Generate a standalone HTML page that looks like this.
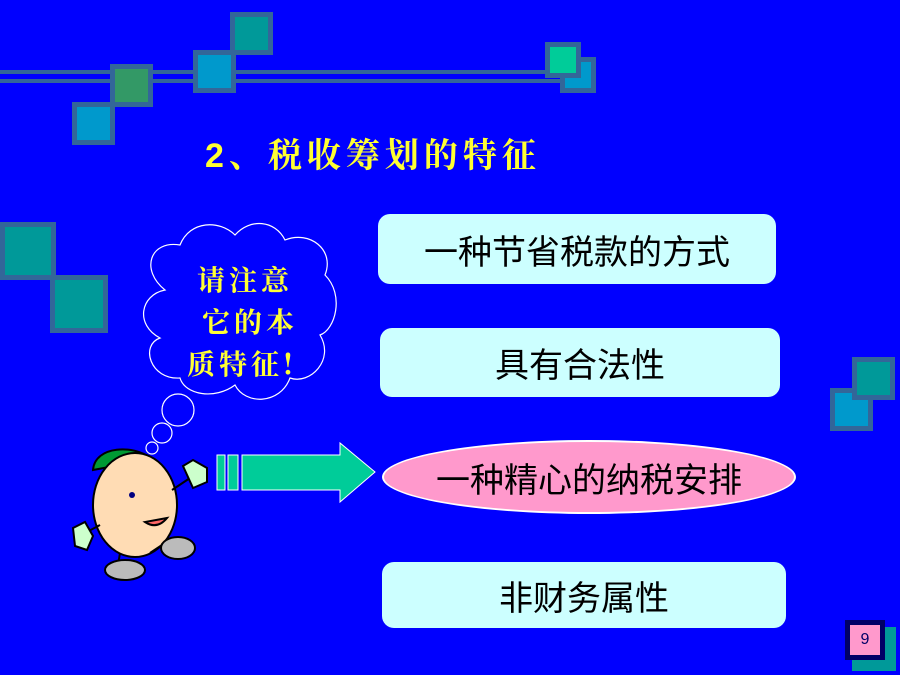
<!DOCTYPE html>
<html><head><meta charset="utf-8"><style>
body{margin:0;width:900px;height:675px;background:#0000ff;position:relative;overflow:hidden;font-family:"Liberation Sans","Noto Sans CJK SC",sans-serif}
.sq{position:absolute;box-sizing:border-box;border:5px solid #336699}
.box{position:absolute;background:#ccffff;border-radius:12px;display:flex;align-items:center;justify-content:center;font-size:34px;color:#000}
</style></head><body>
<div style="position:absolute;left:0;top:70px;width:575px;height:4px;background:#336699"></div>
<div style="position:absolute;left:0;top:79px;width:575px;height:4px;background:#336699"></div>
<div class="sq" style="left:72px;top:102px;width:43px;height:43px;background:#0099cc"></div>
<div class="sq" style="left:110px;top:64px;width:43px;height:43px;background:#339966"></div>
<div class="sq" style="left:230px;top:12px;width:43px;height:43px;background:#009999"></div>
<div class="sq" style="left:193px;top:50px;width:43px;height:43px;background:#0099cc"></div>
<div class="sq" style="left:560px;top:57px;width:36px;height:36px;background:#0099cc"></div>
<div class="sq" style="left:545px;top:42px;width:36px;height:36px;background:#00cc99"></div>
<div class="sq" style="left:0;top:222px;width:56px;height:58px;background:#009999"></div>
<div class="sq" style="left:50px;top:275px;width:58px;height:58px;background:#009999"></div>
<div class="sq" style="left:830px;top:388px;width:43px;height:43px;background:#0099cc"></div>
<div class="sq" style="left:852px;top:357px;width:43px;height:43px;background:#009999"></div>
<div style="position:absolute;left:852px;top:627px;width:44px;height:44px;background:#009999"></div>
<div style="position:absolute;left:845px;top:620px;width:40px;height:40px;box-sizing:border-box;border:5px solid #000066;background:#ff99cc;font-size:16px;color:#000066;display:flex;align-items:center;justify-content:center">9</div>
<div style="position:absolute;left:205px;top:128px;color:#ffff33;font-size:34px;font-weight:bold;letter-spacing:5px;white-space:nowrap;font-family:'Liberation Sans','Noto Serif CJK SC',sans-serif">2、税收筹划的特征</div>
<div class="box" style="left:378px;top:214px;width:398px;height:70px">一种节省税款的方式</div>
<div class="box" style="left:380px;top:328px;width:400px;height:69px">具有合法性</div>
<div class="box" style="left:382px;top:440px;width:414px;height:74px;border-radius:50%;background:#ff99cc;box-sizing:border-box;border:2px solid #fff">一种精心的纳税安排</div>
<div class="box" style="left:382px;top:562px;width:404px;height:66px">非财务属性</div>
<svg style="position:absolute;left:0;top:0" width="900" height="675">
<g fill="#0000ff" stroke="#fff" stroke-width="1.2">
<path d="M165 290 C140 270 150 240 180 245 C190 220 220 220 235 235 C250 218 275 220 285 240 C310 230 335 250 325 275 C345 295 335 330 320 335 C335 360 310 385 290 378 C280 405 245 405 235 385 C215 400 185 395 180 378 C150 380 140 345 160 338 C135 325 140 295 165 290 Z"/>
<circle cx="178" cy="410" r="16"/><circle cx="162" cy="433" r="10"/><circle cx="152" cy="448" r="6"/>
</g>
<g fill="#ffff33" font-size="28" font-weight="bold" font-family="'Noto Serif CJK SC',serif" text-anchor="middle" letter-spacing="4">
<text x="245" y="290">请注意</text><text x="250" y="332">它的本</text><text x="242" y="374">质特征!</text></g>
<rect x="217" y="455" width="8" height="35" fill="#00cc99" stroke="#fff"/>
<rect x="228" y="455" width="10" height="35" fill="#00cc99" stroke="#fff"/>
<path d="M242 455 H340 V443 L375 472 L340 502 V490 H242 Z" fill="#00cc99" stroke="#fff"/>
<g stroke="#000" stroke-width="2">
<path d="M93 470 C95 445 135 445 150 458 L120 465 Z" fill="#009933"/>
<ellipse cx="135" cy="505" rx="42" ry="52" fill="#ffdcb4"/>
<path d="M172 490 L190 478" fill="none"/><path d="M183 466 l10 -6 l14 8 l0 14 l-14 6 z" fill="#ccffcc"/>
<path d="M100 525 L85 533" fill="none"/><path d="M73 528 l12 -6 l8 14 l-6 14 l-12 -4 z" fill="#ccffcc"/>
<path d="M120 553 L118 565 M150 553 L165 543" fill="none"/>
<ellipse cx="125" cy="570" rx="20" ry="10" fill="#bbb"/><ellipse cx="178" cy="548" rx="17" ry="11" fill="#bbb"/>
<path d="M145 522 q12 8 22 -4 z" fill="#ff6666"/>
</g>
<circle cx="132" cy="495" r="3" fill="#000080"/>
</svg>
</body></html>
